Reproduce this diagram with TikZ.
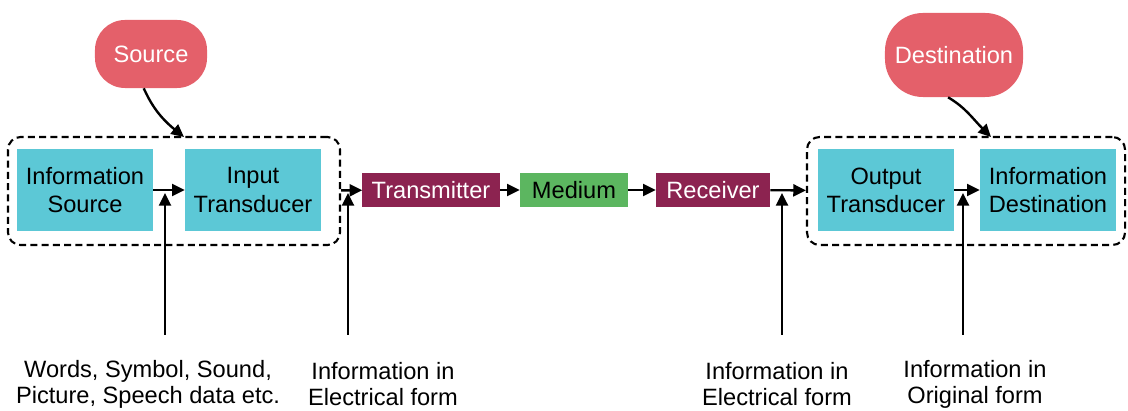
\documentclass[tikz,border=0pt]{standalone}
\usepackage{fontspec}
\setmainfont{Liberation Sans}
\usetikzlibrary{arrows.meta}

\definecolor{bubred}{RGB}{228,96,106}
\definecolor{boxcyan}{RGB}{92,200,214}
\definecolor{chanred}{RGB}{140,35,80}
\definecolor{changreen}{RGB}{92,182,96}

\begin{document}
\begin{tikzpicture}[x=0.025cm,y=-0.025cm,
    >={Triangle[length=9pt,width=8.5pt]},
    conn/.style={->,line width=1.7pt},
    groupbox/.style={draw,dashed,dash pattern=on 5pt off 3pt,line width=1.5pt,rounded corners=9pt,minimum height=2.7cm},
    blockbox/.style={fill=boxcyan,minimum width=3.4cm,minimum height=2.05cm,inner sep=0pt,align=center,font=\fontsize{16.8}{20}\selectfont},
    chanbox/.style={minimum height=0.825cm,inner sep=0pt,font=\fontsize{16.8}{19}\selectfont},
    bubble/.style={fill=bubred,text=white,inner sep=0pt,font=\fontsize{16.8}{19}\selectfont}
]
    \useasboundingbox (0,0) rectangle (1128,411);

    % Draw the dashed groups
    \node[groupbox,minimum width=8.3cm] (grpL) at (174,191) {};
    \node[groupbox,minimum width=7.95cm] (grpR) at (966,191) {};

    % Draw the source and destination bubbles
    \node[bubble,minimum width=2.8cm,minimum height=1.7cm,rounded corners=0.75cm] (src) at (151,54) {Source};
    \node[bubble,minimum width=3.45cm,minimum height=2.1cm,rounded corners=0.95cm] (dst) at (954,55) {Destination};

    % Draw the transducer blocks
    \node[blockbox] (infsrc) at (85,190) {Information\\Source};
    \node[blockbox] (intr) at (253,190) {Input\\Transducer};
    \node[blockbox] (outtr) at (886,190) {Output\\Transducer};
    \node[blockbox] (infdst) at (1048,190) {Information\\Destination};

    % Draw the channel blocks
    \node[chanbox,fill=chanred,text=white,minimum width=3.425cm] (tx) at (431,190) {Transmitter};
    \node[chanbox,fill=changreen,minimum width=2.7cm] (med) at (574,190) {Medium};
    \node[chanbox,fill=chanred,text=white,minimum width=2.85cm] (rx) at (713,190) {Receiver};

    % Draw the main chain
    \draw[conn] (infsrc) -- (intr);
    \draw[conn] (grpL) -- (tx);
    \draw[conn] (tx) -- (med);
    \draw[conn] (med) -- (rx);
    \draw[conn] (rx) -- (grpR);
    \draw[conn] (outtr) -- (infdst);

    % Draw the curved arrows into the groups
    \coordinate (srcin) at (184,137);
    \coordinate (dstin) at (991,137);
    \draw[conn] (src.258) .. controls (150,102) and (158,116) .. (srcin);
    \draw[conn] (dst.262) .. controls (966,108) and (972,118) .. (dstin);

    % Draw the inputs and their labels
    \foreach \i/\ax/\lx/\txt in {1/165/148/{Words, Symbol, Sound,\\Picture, Speech data etc.},
                                 2/348/383/{Information in\\Electrical form},
                                 3/782/777/{Information in\\Electrical form},
                                 4/963/975/{Information in\\Original form}} {
        \coordinate (in\i) at (\ax,335);
        \coordinate (hit\i) at (\ax,193);
        \draw[conn] (in\i) -- (hit\i);
        \node[align=center,font=\fontsize{16.8}{18.5}\selectfont] (lbl\i) at (\lx,384) {\txt};
    }

\end{tikzpicture}
\end{document}
